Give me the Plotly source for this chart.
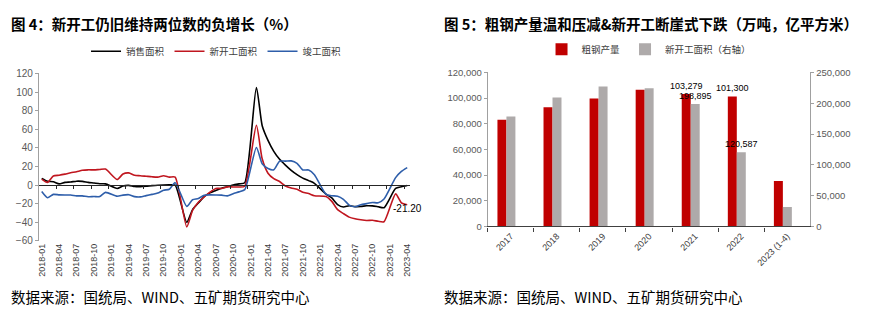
import plotly.graph_objects as go
import pandas as pd

W, H = 875, 323

# ---------------- Left chart data (cumulative YoY, %) ----------------
months = [d.strftime("%Y-%m") for d in pd.date_range("2018-01-01", "2023-04-01", freq="MS")]

sales_area = [
    7.2, 4.1, 3.6, 1.3, 2.9, 3.3, 4.2, 4.0, 2.9, 2.2, 1.4, 1.3,
    None, -3.6, -0.9, -0.3, -1.6, -1.8, -1.3, -0.6, -0.1, 0.1, 0.2, -0.1,
    None, -39.9, -26.3, -19.3, -12.3, -8.4, -5.8, -3.3, -1.8, 0.0, 1.3, 2.6,
    None, 104.9, 63.8, 48.1, 36.3, 27.7, 21.5, 15.9, 11.3, 7.5, 4.8, 1.9,
    None, -9.6, -13.8, -20.9, -23.6, -22.2, -23.1, -23.0, -22.2, -22.3, -23.3, -24.3,
    None, -3.6, -1.8, -0.4,
]
new_starts = [
    6.5, 2.9, 9.7, 10.6, 11.8, 13.2, 14.4, 15.9, 16.4, 16.3, 16.8, 17.2,
    None, 6.0, 11.9, 13.1, 10.5, 10.1, 9.5, 8.9, 8.6, 10.0, 8.6, 8.5,
    None, -44.9, -27.2, -18.4, -12.8, -7.6, -3.6, -3.6, -1.9, -2.0, -2.0, -1.2,
    None, 64.3, 28.2, 12.8, 6.9, 3.8, -0.9, -3.2, -4.5, -7.7, -9.1, -11.4,
    None, -12.2, -17.5, -26.3, -30.6, -34.4, -36.1, -37.2, -38.0, -37.8, -38.9, -39.4,
    None, -9.4, -19.2, -21.2,
]
completions = [
    -7.0, -13.6, -10.0, -10.5, -10.6, -10.6, -11.6, -11.6, -12.6, -12.3, -12.3, -7.8,
    None, -11.9, -10.8, -10.3, -12.4, -12.7, -11.3, -10.0, -8.6, -5.5, -4.5, 2.6,
    None, -22.9, -15.8, -14.5, -10.9, -10.5, -10.6, -10.8, -11.6, -9.2, -7.3, -4.9,
    None, 40.4, 22.9, 17.9, 16.4, 25.7, 25.7, 26.0, 23.4, 16.3, 16.2, 11.2,
    None, -9.8, -11.5, -11.9, -15.3, -21.5, -23.3, -21.1, -19.9, -18.7, -19.0, -15.0,
    None, 8.0, 14.7, 18.8,
]

# ---------------- Right chart data ----------------
years = ["2017", "2018", "2019", "2020", "2021", "2022", "2023 (1-4)"]
crude_steel = [83173, 92826, 99634, 106477, 103279, 101300, 35439]          # 万吨
new_start_area = [178654, 209342, 227154, 224433, 198895, 120587, 31569]   # 万平方米 (right axis)
labelled_years = ["2021", "2022"]

idx = list(range(len(months)))
BASE_FONT = "Liberation Sans, Noto Sans CJK SC, sans-serif"
CJK_FONT = "Noto Sans CJK SC, sans-serif"

fig = go.Figure()

line_specs = [
    ("销售面积", sales_area, "#000000"),
    ("新开工面积", new_starts, "#C0161F"),
    ("竣工面积", completions, "#2E5EAA"),
]
for name, vals, col in line_specs:
    fig.add_trace(go.Scatter(
        x=idx, y=vals, name=name, mode="lines", connectgaps=True,
        line=dict(color=col, width=1.6, shape="spline", smoothing=0.6),
        xaxis="x", yaxis="y", legend="legend", hoverinfo="skip",
    ))

# last-value label of new starts (drawn on the overlay axis)
fig.add_trace(go.Scatter(
    x=[idx[-1]], y=[new_starts[-1]], mode="text",
    text=[f"{new_starts[-1]:.2f}"], textposition="bottom center",
    textfont=dict(size=10, color="#000000", family=BASE_FONT),
    xaxis="x2", yaxis="y", showlegend=False, hoverinfo="skip", cliponaxis=False,
))

steel_text = [f"{v:,}" if y in labelled_years else "" for y, v in zip(years, crude_steel)]
area_text = [f"{v:,}" if y in labelled_years else "" for y, v in zip(years, new_start_area)]

fig.add_trace(go.Bar(
    x=years, y=crude_steel, name="粗钢产量", marker=dict(color="#C00000", line=dict(width=0)),
    width=0.195, offset=-0.29, xaxis="x3", yaxis="y3", legend="legend2",
    text=steel_text, textposition="outside", textangle=0, constraintext="none",
    cliponaxis=False, textfont=dict(size=9, color="#000000", family=BASE_FONT), hoverinfo="skip",
))
fig.add_trace(go.Bar(
    x=years, y=new_start_area, name="新开工面积（右轴）", marker=dict(color="#AEAAAA", line=dict(width=0)),
    width=0.195, offset=-0.095, xaxis="x3", yaxis="y4", legend="legend2",
    text=area_text, textposition="outside", textangle=0, constraintext="none",
    cliponaxis=False, textfont=dict(size=9, color="#000000", family=BASE_FONT), hoverinfo="skip",
))

# geometry helpers
def px_x(p):
    return p / W

def px_y(p):
    return 1 - p / H

L_dom_x = [px_x(37), px_x(410)]
L_dom_y = [px_y(244), px_y(70)]
y_lo, y_hi = -60, 120
zero_pos = L_dom_y[0] + (0 - y_lo) / (y_hi - y_lo) * (L_dom_y[1] - L_dom_y[0])

R_dom_x = [px_x(488), px_x(812)]
R_dom_y = [px_y(229), px_y(69)]

tick_col = "#595959"
axis_col = "#A0A0A0"

fig.update_layout(
    width=W, height=H, margin=dict(l=0, r=0, t=0, b=0),
    paper_bgcolor="white", plot_bgcolor="white",
    font=dict(family=BASE_FONT, size=10, color="#404040"),
    barmode="overlay",
    xaxis=dict(
        domain=L_dom_x, anchor="y", range=[-0.5, len(months) - 0.5],
        tickmode="array", tickvals=idx[::3], ticktext=months[::3], tickangle=-90,
        tickfont=dict(size=9, color="#404040"), ticks="", showline=False,
        showgrid=False, zeroline=False, fixedrange=True,
    ),
    xaxis2=dict(
        domain=L_dom_x, overlaying="x", anchor="free", position=zero_pos,
        range=[-0.5, len(months) - 0.5],
        tickmode="array", tickvals=[i - 0.5 for i in idx[3::3]],
        ticks="outside", ticklen=3, tickcolor="#262626", showticklabels=False,
        showline=True, linecolor="#262626", linewidth=1.2,
        showgrid=False, zeroline=False,
    ),
    yaxis=dict(
        domain=L_dom_y, anchor="x", range=[y_lo, y_hi],
        tickmode="array", tickvals=list(range(-60, 121, 20)),
        tickfont=dict(size=10, color=tick_col), ticks="outside", ticklen=3,
        tickcolor=axis_col, showline=True, linecolor=axis_col, linewidth=1,
        showgrid=False, zeroline=False,
    ),
    xaxis3=dict(
        domain=R_dom_x, anchor="y3", type="category",
        tickangle=-45, tickfont=dict(size=9, color="#404040"),
        ticks="outside", tickson="boundaries", ticklen=4, tickcolor="#404040",
        showline=True, linecolor="#404040", linewidth=1.2, showgrid=False,
    ),
    yaxis3=dict(
        domain=R_dom_y, anchor="x3", range=[0, 120000], dtick=20000, tickformat=",",
        tickfont=dict(size=9.5, color=tick_col), ticks="outside", ticklen=3,
        tickcolor=axis_col, showline=True, linecolor=axis_col, showgrid=False, zeroline=False,
    ),
    yaxis4=dict(
        overlaying="y3", side="right", anchor="x3", range=[0, 250000], dtick=50000,
        tickformat=",", tickfont=dict(size=9.5, color=tick_col), ticks="outside",
        ticklen=3, tickcolor=axis_col, showline=True, linecolor=axis_col,
        showgrid=False, zeroline=False,
    ),
    legend=dict(
        orientation="h", x=px_x(215), xanchor="center", y=px_y(47), yanchor="middle",
        font=dict(size=9.5, color="#404040", family=CJK_FONT), itemwidth=30,
        bgcolor="rgba(0,0,0,0)", tracegroupgap=0,
    ),
    legend2=dict(
        orientation="h", x=px_x(650), xanchor="center", y=px_y(45), yanchor="middle",
        font=dict(size=9.5, color="#404040", family=CJK_FONT), itemwidth=30,
        bgcolor="rgba(0,0,0,0)",
    ),
    showlegend=True,
)

annotations = [
    dict(text="图 4：新开工仍旧维持两位数的负增长（%）", x=px_x(7), y=px_y(18)),
    dict(text="图 5：粗钢产量温和压减&新开工断崖式下跌（万吨，亿平方米）", x=px_x(442), y=px_y(18)),
]
for a in annotations:
    fig.add_annotation(
        text=a["text"], x=a["x"], y=a["y"], xref="paper", yref="paper",
        xanchor="left", yanchor="middle", showarrow=False,
        font=dict(family=CJK_FONT, size=14.5, color="#000000", weight="bold"),
    )
for xp in (7, 442):
    fig.add_annotation(
        text="数据来源：国统局、WIND、五矿期货研究中心", x=px_x(xp), y=px_y(302),
        xref="paper", yref="paper", xanchor="left", yanchor="middle", showarrow=False,
        font=dict(family=CJK_FONT, size=14.5, color="#000000"),
    )

fig.write_html("out.html")
